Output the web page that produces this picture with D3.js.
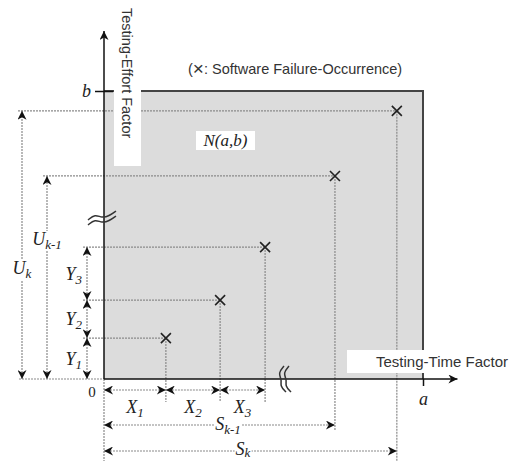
<!DOCTYPE html>
<html lang="en">
<head>
<meta charset="UTF-8">
<title>Failure occurrence in time and effort</title>
<script src="https://d3js.org/d3.v7.min.js"></script>
<style>
  body { margin: 0; background: #fff; }
  .dot { stroke: #8a8a8a; stroke-width: 1.2; stroke-dasharray: 2,1; fill: none; }
  .dim { stroke: #8a8a8a; stroke-width: 1.2; stroke-dasharray: 2,1; fill: none; }
  .it { font-family: "Liberation Serif", "DejaVu Serif", serif; font-style: italic; fill: #222; }
  .sans { font-family: "Liberation Sans", Arial, sans-serif; fill: #333; }
</style>
</head>
<body>
<svg width="518" height="461"></svg>
<script>
// failure-occurrence data (testing time s_i, testing effort u_i), axis units where a = b = 100
const pointNames = ["1", "2", "3", "k-1", "k"];
const timeValues = [19.4, 36.4, 50.5, 72.4, 91.8];
const effortValues = [14.2, 27.4, 45.8, 70.5, 93.1];
const axisMax = [100, 100];            // a, b
const tickLabels = ["a", "b"];

const svg = d3.select("svg");

const x = d3.scaleLinear().domain([0, 100]).range([104, 423]);
const y = d3.scaleLinear().domain([0, 100]).range([379, 91]);

const pts = pointNames.map((n, i) => ({ name: n, s: timeValues[i], u: effortValues[i] }));

// arrow marker
const defs = svg.append("defs");
defs.append("marker")
    .attr("id", "arr")
    .attr("viewBox", "0 0 10 10")
    .attr("refX", 10).attr("refY", 5)
    .attr("markerWidth", 11).attr("markerHeight", 9)
    .attr("markerUnits", "userSpaceOnUse")
    .attr("orient", "auto-start-reverse")
  .append("path")
    .attr("d", "M0,0 L10,5 L0,10 L3,5 Z")
    .attr("fill", "#111");

// shaded region N(a,b)
svg.append("rect")
   .attr("x", x(0)).attr("y", y(axisMax[1]))
   .attr("width", x(axisMax[0]) - x(0))
   .attr("height", y(0) - y(axisMax[1]))
   .attr("fill", "#dcdcdc");
svg.append("path")
   .attr("d", `M${x(0)},${y(axisMax[1])} H${x(axisMax[0])} V${y(0)}`)
   .attr("fill", "none").attr("stroke", "#444").attr("stroke-width", 2);

// left offsets for the effort dimension lines
const uxFor = (d, i) => i < 3 ? 87 : (i === 3 ? 47 : 22);
// bottom offsets for the time dimension lines
const syFor = (d, i) => i < 3 ? 390 : (i === 3 ? 425 : 451);

// horizontal dotted guides
svg.selectAll("line.hg").data(pts).enter().append("line")
   .attr("class", "dot")
   .attr("x1", (d, i) => uxFor(d, i) - 4).attr("x2", d => x(d.s))
   .attr("y1", d => y(d.u)).attr("y2", d => y(d.u));
// baseline guide left of origin
svg.append("line").attr("class", "dot")
   .attr("x1", 19).attr("x2", x(0)).attr("y1", y(0)).attr("y2", y(0));

// vertical dotted guides
svg.selectAll("line.vg").data(pts).enter().append("line")
   .attr("class", "dot")
   .attr("x1", d => x(d.s)).attr("x2", d => x(d.s))
   .attr("y1", d => y(d.u)).attr("y2", (d, i) => i < 3 ? 402 : (i === 3 ? 430 : 461));
svg.append("line").attr("class", "dot")
   .attr("x1", x(0)).attr("x2", x(0)).attr("y1", y(0)).attr("y2", 461);

// effort dimension arrows (Y1..Y3, U_{k-1}, U_k)
const effDims = pts.map((d, i) => ({
    lo: i < 3 && i > 0 ? pts[i - 1].u : 0, hi: d.u, xp: uxFor(d, i),
    main: i < 3 ? "Y" : "U", sub: d.name
}));
svg.selectAll("line.ed").data(effDims).enter().append("line")
   .attr("class", "dim")
   .attr("x1", d => d.xp).attr("x2", d => d.xp)
   .attr("y1", d => y(d.lo)).attr("y2", d => y(d.hi))
   .attr("marker-start", "url(#arr)").attr("marker-end", "url(#arr)");

// time dimension arrows (X1..X3, S_{k-1}, S_k)
const timeDims = pts.map((d, i) => ({
    lo: i < 3 && i > 0 ? pts[i - 1].s : 0, hi: d.s, yp: syFor(d, i),
    main: i < 3 ? "X" : "S", sub: d.name
}));
svg.selectAll("line.td").data(timeDims).enter().append("line")
   .attr("class", "dim")
   .attr("x1", d => x(d.lo)).attr("x2", d => x(d.hi))
   .attr("y1", d => d.yp).attr("y2", d => d.yp)
   .attr("marker-start", "url(#arr)").attr("marker-end", "url(#arr)");

// subscripted labels
function subLabel(g, main, sub, px, py, anchor, bg, subDy) {
    const t = g.append("text").attr("class", "it")
        .attr("x", px).attr("y", py).attr("text-anchor", anchor)
        .style("font-size", "18px");
    t.append("tspan").text(main);
    t.append("tspan").attr("dy", subDy || 4).style("font-size", "13px").text(sub);
    if (bg) {
        const b = t.node().getBBox();
        g.insert("rect", "text").attr("x", b.x - 1).attr("y", b.y + 2)
         .attr("width", b.width + 2).attr("height", b.height - 3).attr("fill", "#fff");
    }
}
const lab = svg.append("g");
effDims.forEach((d, i) => {
    const g = lab.append("g");
    if (i < 3) subLabel(g, d.main, d.sub, d.xp - 5, (y(d.lo) + y(d.hi)) / 2 + 6, "end", false);
    else subLabel(g, d.main, d.sub, d.xp, i === 3 ? 245 : 274, "middle", true);
});
timeDims.forEach((d, i) => {
    const g = lab.append("g");
    if (i < 3) subLabel(g, d.main, d.sub, (x(d.lo) + x(d.hi)) / 2, 413, "middle", false);
    else subLabel(g, d.main, d.sub, i === 3 ? 228 : 243, d.yp + (i === 3 ? 5 : 4), "middle", true, i === 3 ? 4 : 2);
});

// failure marks
svg.selectAll("path.cross").data(pts).enter().append("path")
   .attr("d", d => { const cx = x(d.s), cy = y(d.u), r = 5;
       return `M${cx - r},${cy - r}L${cx + r},${cy + r}M${cx - r},${cy + r}L${cx + r},${cy - r}`; })
   .attr("stroke", "#222").attr("stroke-width", 1.6);

// white label boxes
svg.append("rect").attr("x", 114).attr("y", 0).attr("width", 27).attr("height", 166).attr("fill", "#fff");
svg.append("rect").attr("x", 347).attr("y", 350).attr("width", 171).attr("height", 23).attr("fill", "#fff");
svg.append("rect").attr("x", 196).attr("y", 131).attr("width", 59).attr("height", 19).attr("fill", "#fff");

// axes
svg.append("line")
   .attr("x1", x(0)).attr("x2", x(110.8)).attr("y1", y(0)).attr("y2", y(0))
   .attr("stroke", "#111").attr("stroke-width", 1.5).attr("marker-end", "url(#arr)");
svg.append("line")
   .attr("x1", x(0)).attr("x2", x(0)).attr("y1", y(0)).attr("y2", y(120.8))
   .attr("stroke", "#111").attr("stroke-width", 1.5).attr("marker-end", "url(#arr)");

const xAxis = svg.append("g").attr("transform", `translate(0,${y(0)})`)
   .call(d3.axisBottom(x).tickValues([axisMax[0]]).tickSize(7).tickFormat(() => tickLabels[0]));
xAxis.select(".domain").remove();
xAxis.selectAll("line").attr("stroke", "#111").attr("stroke-width", 1.5);
xAxis.selectAll("text").attr("class", "it").attr("dy", "0.9em").style("font-size", "18px");

const yAxis = svg.append("g").attr("transform", `translate(${x(0)},0)`)
   .call(d3.axisLeft(y).tickValues([axisMax[1]]).tickSize(9).tickFormat(() => tickLabels[1]));
yAxis.select(".domain").remove();
yAxis.selectAll("line").attr("x2", 9).attr("x1", -9).attr("stroke", "#111").attr("stroke-width", 1.5);
yAxis.selectAll("text").attr("class", "it").attr("x", -13).attr("dy", "0.3em").style("font-size", "18px");

svg.append("text").attr("x", 92).attr("y", 397)
   .attr("text-anchor", "middle")
   .style("font-family", "Liberation Serif, serif").style("font-size", "15px").attr("fill", "#222")
   .text("0");

// axis breaks
const wave = d3.line().curve(d3.curveBasis);
[0, 5].forEach(o => {
    svg.append("path")
       .attr("d", wave([[88, 220 + o], [95, 214 + o], [102, 218 + o], [109, 216 + o], [116, 211 + o]]))
       .attr("fill", "none").attr("stroke", "#333").attr("stroke-width", 1.5);
    svg.append("path")
       .attr("d", wave([[284 + o, 366], [278 + o, 373], [282 + o, 380], [280 + o, 386], [286 + o, 392]]))
       .attr("fill", "none").attr("stroke", "#333").attr("stroke-width", 1.5);
});

// texts
svg.append("text").attr("class", "sans")
   .attr("transform", "translate(122,8) rotate(90)")
   .style("font-size", "14.5px").text("Testing-Effort Factor");
svg.append("text").attr("class", "sans")
   .attr("x", 376).attr("y", 367).style("font-size", "15px").text("Testing-Time Factor");
const sub = svg.append("text").attr("class", "sans")
   .attr("x", 188).attr("y", 74).style("font-size", "14.5px");
sub.append("tspan").text("(");
sub.append("tspan").style("font-size", "19px").attr("dy", 1).text("\u00d7");
sub.append("tspan").attr("dy", -1).text(": Software Failure-Occurrence)");
svg.append("text").attr("class", "it")
   .attr("x", 225.5).attr("y", 146).attr("text-anchor", "middle")
   .style("font-size", "17px").text("N(a,b)");
</script>
</body>
</html>
